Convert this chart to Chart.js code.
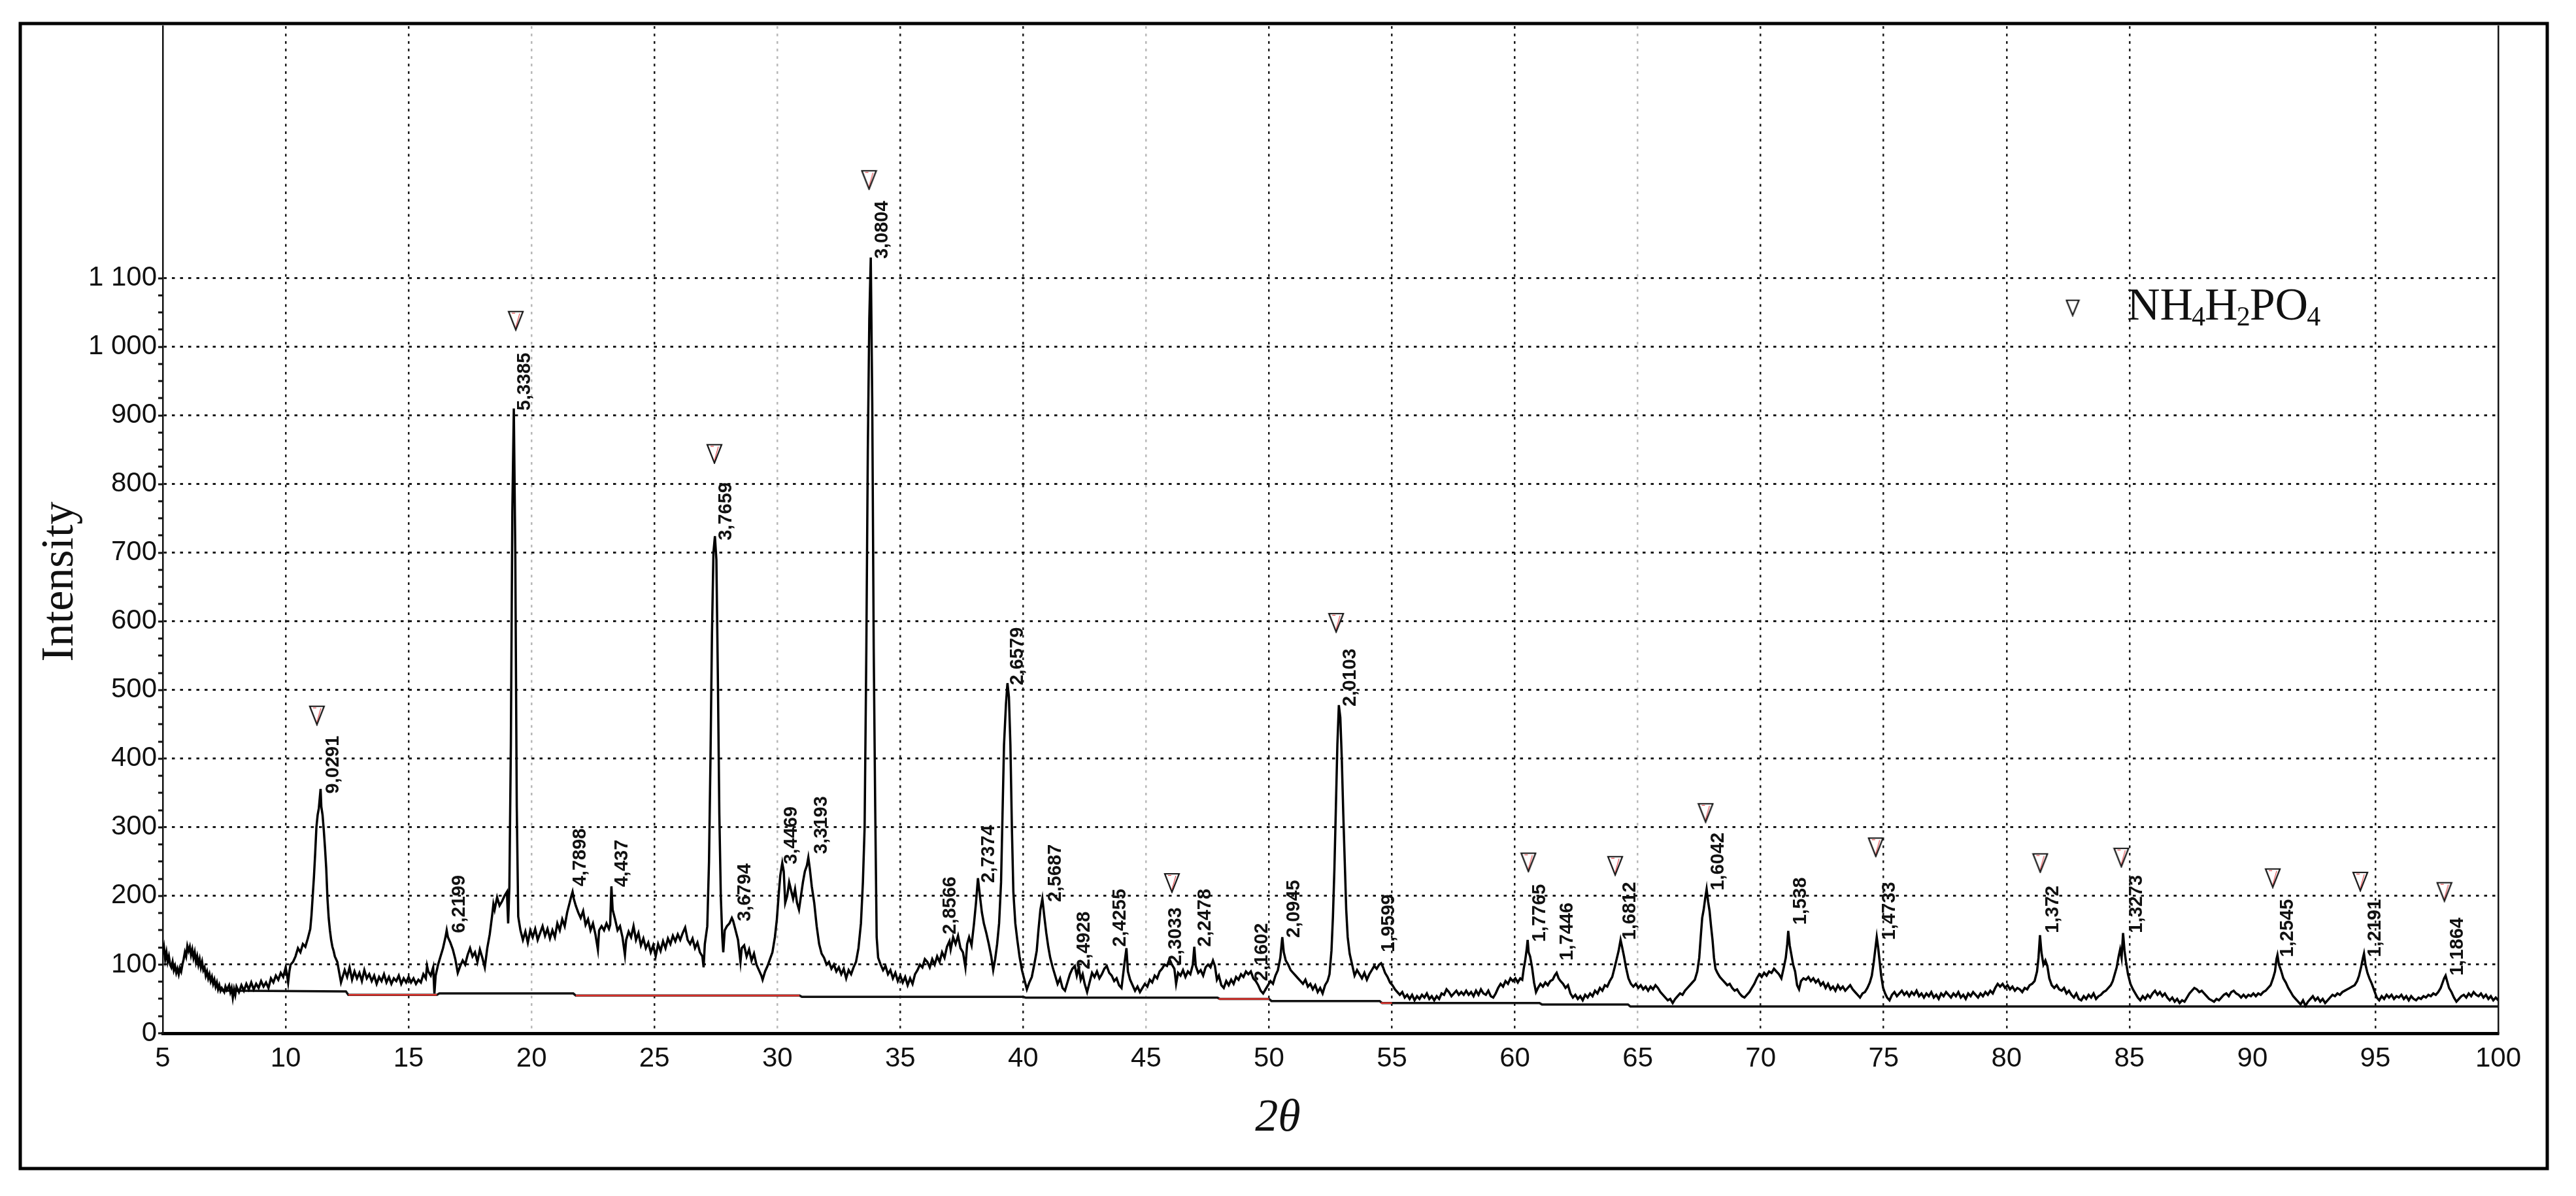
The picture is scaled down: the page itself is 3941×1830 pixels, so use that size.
<!DOCTYPE html>
<html>
<head>
<meta charset="utf-8">
<title>XRD NH4H2PO4</title>
<script src="https://cdn.jsdelivr.net/npm/chart.js@4.4.1/dist/chart.umd.min.js"></script>
<style>
  html, body { margin: 0; padding: 0; background: #fff; }
  canvas { display: block; }
</style>
</head>
<body>
<canvas id="xrd" width="3941" height="1830"></canvas>
<script>
// tick values and labels
const xTicks = [5, 10, 15, 20, 25, 30, 35, 40, 45, 50, 55, 60, 65, 70, 75, 80, 85, 90, 95, 100];
const yTickValues = [0, 100, 200, 300, 400, 500, 600, 700, 800, 900, 1000, 1100];
const yTickLabels = ['0', '100', '200', '300', '400', '500', '600', '700', '800', '900', '1 000', '1 100'];
const lightGrid = [20, 30, 45, 65];
const hiddenGrid = [5, 90, 100];

// 2theta / intensity
const xrdScan = [
[5.00,115],[5.05,125],[5.10,108],[5.15,118],[5.20,104],[5.25,112],[5.30,100],[5.35,96],[5.40,104],[5.45,92],
[5.50,98],[5.55,88],[5.60,94],[5.65,86],[5.70,95],[5.75,90],[5.80,100],[5.85,108],[5.90,118],[5.95,112],
[6.00,127],[6.05,120],[6.10,126],[6.15,114],[6.20,122],[6.25,110],[6.30,118],[6.35,104],[6.40,112],[6.45,100],
[6.50,108],[6.55,96],[6.60,104],[6.65,92],[6.70,96],[6.75,84],[6.80,90],[6.85,80],[6.90,86],[6.95,76],
[7.00,82],[7.05,72],[7.10,78],[7.15,68],[7.20,74],[7.25,64],[7.30,70],[7.35,62],[7.40,66],[7.50,60],
[7.55,68],[7.60,63],[7.70,70],[7.75,60],[7.80,66],[7.85,52],[7.90,64],[7.95,56],[8.00,68],[8.10,60],
[8.20,70],[8.30,62],[8.40,72],[8.50,64],[8.60,74],[8.70,64],[8.80,72],[8.90,66],[9.00,76],[9.10,68],
[9.20,74],[9.30,66],[9.40,80],[9.50,74],[9.60,84],[9.70,78],[9.80,88],[9.90,82],[10.00,96],[10.05,86],
[10.10,74],[10.15,90],[10.20,100],[10.30,104],[10.40,112],[10.50,124],[10.60,118],[10.70,130],[10.80,126],[10.90,138],
[11.00,152],[11.05,172],[11.10,200],[11.15,228],[11.20,262],[11.25,300],[11.30,318],[11.35,328],[11.38,340],[11.42,356],
[11.45,330],[11.50,318],[11.55,296],[11.60,270],[11.65,240],[11.70,196],[11.75,168],[11.80,150],[11.85,136],[11.90,126],
[11.95,120],[12.00,112],[12.10,104],[12.20,84],[12.25,74],[12.30,80],[12.40,92],[12.50,82],[12.60,96],[12.70,78],
[12.80,90],[12.90,80],[13.00,88],[13.10,76],[13.20,92],[13.30,80],[13.40,86],[13.50,76],[13.60,84],[13.70,72],
[13.80,82],[13.90,76],[14.00,86],[14.10,74],[14.20,82],[14.30,72],[14.40,80],[14.50,76],[14.60,84],[14.70,72],
[14.80,80],[14.90,74],[15.00,82],[15.10,74],[15.20,80],[15.30,72],[15.40,78],[15.50,74],[15.60,86],[15.70,80],
[15.75,98],[15.80,90],[15.90,84],[16.00,96],[16.05,58],[16.10,84],[16.20,100],[16.30,112],[16.40,124],[16.50,140],
[16.55,150],[16.60,140],[16.70,132],[16.80,122],[16.90,108],[17.00,88],[17.10,98],[17.20,106],[17.30,100],[17.40,114],
[17.50,124],[17.60,112],[17.70,118],[17.80,104],[17.90,122],[18.00,110],[18.10,96],[18.20,124],[18.30,144],[18.40,172],
[18.45,188],[18.50,180],[18.60,198],[18.70,186],[18.80,192],[18.90,200],[19.00,206],[19.05,160],[19.10,214],[19.16,420],
[19.22,760],[19.28,910],[19.34,700],[19.40,330],[19.46,170],[19.55,150],[19.65,136],[19.75,148],[19.85,132],[19.95,150],
[20.05,140],[20.15,152],[20.25,136],[20.35,146],
[20.45,156],[20.55,142],[20.65,152],[20.75,138],[20.85,150],[20.95,140],[21.05,160],[21.15,150],[21.25,166],[21.35,156],
[21.45,176],[21.55,190],[21.62,200],[21.67,206],[21.72,196],[21.80,186],[21.90,176],[22.00,168],[22.10,178],[22.20,158],
[22.30,166],[22.40,150],[22.50,160],[22.60,144],[22.70,122],[22.75,150],[22.85,156],[22.95,150],[23.05,160],[23.15,152],
[23.20,158],[23.25,214],[23.30,180],[23.40,166],[23.50,150],[23.60,156],[23.70,140],[23.80,114],[23.85,136],[23.95,148],
[24.05,140],[24.15,156],[24.25,136],[24.35,146],[24.45,128],[24.55,138],[24.65,124],[24.75,132],[24.85,118],[24.95,128],
[25.05,112],[25.15,130],[25.25,120],[25.35,134],[25.45,124],[25.55,138],[25.65,130],[25.75,142],[25.85,134],[25.95,144],
[26.05,136],[26.15,146],[26.25,154],[26.35,136],[26.45,130],[26.55,138],[26.65,124],[26.75,132],[26.85,118],[26.95,112],
[27.00,96],[27.05,130],[27.15,156],[27.22,250],[27.28,400],[27.34,580],[27.40,700],[27.46,724],[27.52,690],[27.58,520],
[27.64,320],[27.70,200],[27.76,140],[27.80,118],[27.86,150],[27.95,156],[28.05,160],[28.15,168],[28.20,164],[28.30,150],
[28.40,136],[28.50,104],[28.55,124],[28.65,128],[28.75,112],[28.85,122],[28.95,106],[29.05,116],[29.15,100],[29.25,92],
[29.35,84],[29.40,78],[29.50,90],[29.60,98],[29.70,108],[29.80,118],[29.90,140],[29.98,166],[30.05,200],[30.12,230],
[30.20,248],[30.26,236],[30.32,190],[30.40,200],[30.48,220],[30.56,208],[30.64,196],[30.72,210],[30.80,190],[30.88,180],
[30.96,200],[31.04,220],[31.12,236],[31.20,244],[31.26,256],[31.32,240],[31.40,214],[31.50,190],[31.60,156],[31.70,130],
[31.80,116],[31.90,110],[32.00,100],[32.10,104],[32.20,94],[32.30,100],[32.40,90],[32.50,96],[32.60,86],[32.70,94],
[32.80,80],[32.90,92],[33.00,86],[33.10,96],[33.20,104],[33.30,124],[33.40,160],[33.48,220],[33.55,300],[33.62,560],
[33.68,850],[33.74,1040],[33.80,1130],[33.86,920],[33.92,560],[33.98,330],[34.04,140],[34.10,110],[34.20,100],[34.30,92],
[34.40,98],[34.50,86],[34.60,92],[34.70,80],[34.80,88],[34.90,76],[35.00,84],[35.10,74],[35.20,82],[35.30,70],
[35.40,80],[35.50,72],[35.60,86],[35.70,92],[35.80,100],[35.90,96],[36.00,108],
[36.10,104],[36.20,96],[36.30,108],[36.40,100],[36.50,112],[36.60,104],[36.70,118],[36.80,110],[36.90,126],[37.00,134],
[37.05,122],[37.15,140],[37.25,130],[37.35,142],[37.45,124],[37.55,118],[37.65,96],[37.72,130],[37.80,140],[37.90,128],
[38.00,160],[38.08,190],[38.16,226],[38.24,200],[38.32,176],[38.40,160],[38.50,146],[38.60,130],[38.70,112],[38.78,92],
[38.86,108],[38.94,130],[39.02,160],[39.10,220],[39.16,320],[39.22,420],[39.30,480],[39.36,510],[39.42,490],[39.48,420],
[39.54,300],[39.60,206],[39.68,160],[39.76,136],[39.85,112],[39.95,92],[40.05,78],[40.15,64],[40.25,74],[40.35,82],
[40.45,100],[40.55,120],[40.62,150],[40.70,180],[40.78,196],[40.86,170],[40.94,146],[41.02,126],[41.10,110],[41.20,96],
[41.30,84],[41.40,72],[41.50,80],[41.60,66],[41.70,62],[41.80,74],[41.90,86],[42.00,94],[42.10,98],[42.18,84],
[42.26,96],[42.34,78],[42.42,86],[42.50,72],[42.60,60],[42.70,74],[42.80,88],[42.90,82],[43.00,90],[43.10,80],
[43.20,86],[43.30,94],[43.40,98],[43.50,88],[43.60,84],[43.70,76],[43.80,80],[43.90,70],[44.00,66],[44.10,96],
[44.20,124],[44.26,90],[44.35,78],[44.45,70],[44.55,62],[44.65,68],[44.75,60],[44.85,66],[44.95,72],[45.05,68],
[45.15,78],[45.25,74],[45.35,84],[45.45,80],[45.55,90],[45.65,94],[45.75,100],[45.85,98],[45.95,108],[46.05,100],
[46.15,94],[46.22,72],[46.30,88],[46.40,84],[46.50,92],[46.60,82],[46.70,90],[46.80,86],[46.90,100],[46.96,126],
[47.02,98],[47.12,88],[47.22,92],[47.32,84],[47.42,96],[47.52,100],[47.62,96],[47.72,106],[47.80,98],[47.88,78],
[47.96,84],[48.06,70],[48.16,66],[48.26,76],[48.36,70],[48.46,78],[48.56,72],[48.66,82],[48.76,78],[48.86,86],
[48.96,82],[49.06,90],[49.16,86],[49.26,90],[49.36,80],[49.46,76],[49.56,70],[49.66,62],[49.76,58],[49.86,64],
[49.96,70],[50.06,76],[50.16,72],[50.26,84],[50.36,92],[50.46,110],[50.54,140],[50.60,118],[50.68,106],[50.78,100],
[50.88,92],[50.98,88],[51.08,84],[51.18,80],[51.28,76],[51.38,72],[51.48,78],[51.58,68],[51.68,72],[51.78,64],
[51.88,70],[51.98,60],[52.08,66],[52.18,58],[52.28,70],[52.38,76],[52.46,86],[52.54,120],[52.60,170],[52.66,240],
[52.72,330],[52.78,420],[52.84,478],[52.90,460],[52.96,400],[53.02,320],[53.08,250],[53.14,180],[53.20,140],[53.28,116],
[53.38,100],[53.48,84],[53.58,92],[53.68,86],[53.78,80],[53.88,88],[53.98,78],[54.08,86],[54.18,92],[54.28,98],
[54.38,94],[54.48,100],[54.56,102],[54.64,96],[54.72,88],[54.82,82],[54.92,74],[55.02,70],[55.12,64],[55.22,60],
[55.32,56],[55.42,60],[55.52,52],[55.62,56],[55.72,50],[55.82,56],[55.92,48],[56.02,54],[56.12,50],[56.22,56],
[56.32,52],[56.42,58],[56.52,50],[56.62,54],[56.72,48],[56.82,54],[56.92,50],[57.02,58],[57.12,56],[57.22,64],
[57.32,60],[57.42,54],[57.52,58],[57.62,62],[57.72,56],[57.82,60],[57.92,56],[58.02,62],[58.12,56],[58.22,60],
[58.32,54],[58.42,62],[58.52,56],[58.62,64],[58.72,58],[58.82,56],[58.92,62],[59.02,54],[59.12,52],[59.22,58],
[59.32,66],[59.42,72],[59.52,68],[59.62,76],[59.72,72],[59.82,80],[59.92,76],[60.02,80],[60.12,74],[60.22,80],
[60.30,78],[60.36,94],[60.42,106],[60.48,122],[60.52,136],[60.56,118],[60.62,112],[60.70,96],[60.78,74],[60.86,60],
[60.94,66],[61.04,72],[61.14,68],[61.24,74],[61.34,70],[61.44,76],[61.54,78],[61.62,84],[61.70,88],[61.78,80],
[61.86,76],[61.96,72],[62.06,66],[62.16,70],[62.26,58],[62.36,52],[62.46,56],[62.56,50],[62.66,54],[62.76,48],
[62.86,56],[62.96,52],[63.06,58],[63.16,54],[63.26,62],[63.36,58],[63.46,66],[63.56,62],[63.66,70],[63.76,68],
[63.86,76],[63.96,82],[64.06,96],[64.14,108],[64.22,120],[64.30,136],[64.36,126],[64.44,112],[64.52,96],[64.62,80],
[64.72,72],[64.82,68],[64.92,72],[65.02,66],[65.12,70],[65.22,64],[65.32,68],[65.42,62],[65.52,68],[65.62,64],
[65.72,70],[65.82,66],[65.92,60],[66.02,56],[66.12,52],[66.22,48],[66.32,50],[66.42,44],[66.52,50],[66.62,54],
[66.72,58],[66.82,56],[66.92,62],[67.02,66],[67.12,70],[67.22,74],[67.32,78],[67.42,90],[67.50,110],
[67.56,140],[67.62,168],[67.68,180],[67.74,196],[67.80,210],[67.86,192],[67.92,178],[67.98,156],[68.04,136],[68.10,110],
[68.16,94],[68.24,88],[68.34,82],[68.44,78],[68.54,74],[68.64,70],[68.74,72],[68.84,66],[68.94,62],[69.04,64],
[69.14,58],[69.24,54],[69.34,52],[69.44,56],[69.54,60],[69.64,66],[69.74,72],[69.84,80],[69.94,86],[70.04,82],
[70.14,88],[70.24,84],[70.34,90],[70.44,88],[70.54,94],[70.64,90],[70.74,86],[70.84,80],[70.94,96],[71.02,110],
[71.08,130],[71.12,149],[71.18,128],[71.24,116],[71.32,100],[71.40,90],[71.48,70],[71.56,64],[71.64,76],[71.74,80],
[71.84,78],[71.94,82],[72.04,76],[72.14,80],[72.24,74],[72.34,78],[72.44,70],[72.54,74],[72.64,66],[72.74,72],
[72.84,64],[72.94,68],[73.04,62],[73.14,70],[73.24,64],[73.34,68],[73.44,62],[73.54,66],[73.64,70],[73.74,64],
[73.84,60],[73.94,56],[74.04,52],[74.14,58],[74.24,60],[74.34,66],[74.44,74],[74.52,84],[74.60,104],[74.66,122],
[74.72,140],[74.78,124],[74.84,104],[74.90,84],[74.98,66],[75.06,58],[75.14,52],[75.24,48],[75.34,56],[75.44,60],
[75.54,54],[75.64,58],[75.74,62],[75.84,56],[75.94,60],[76.04,54],[76.14,60],[76.24,56],[76.34,62],[76.44,54],
[76.54,58],[76.64,52],[76.74,58],[76.84,54],[76.94,60],[77.04,52],[77.14,56],[77.24,50],[77.34,58],[77.44,54],
[77.54,60],[77.64,56],[77.74,52],[77.84,58],[77.94,54],[78.04,60],[78.14,52],[78.24,56],[78.34,50],[78.44,58],
[78.54,54],[78.64,60],[78.74,56],[78.84,52],[78.94,58],[79.04,54],[79.14,60],[79.24,56],[79.34,62],[79.44,58],
[79.54,66],[79.64,72],[79.74,68],[79.84,72],[79.94,66],[80.04,70],[80.14,64],[80.24,68],[80.34,62],[80.44,66],
[80.54,64],[80.64,60],[80.74,66],[80.84,64],[80.94,70],[81.04,72],[81.14,76],[81.24,90],[81.30,110],[81.36,143],
[81.42,118],[81.50,100],[81.58,106],[81.66,98],[81.74,80],[81.84,70],[81.94,66],[82.04,70],[82.14,64],[82.24,62],
[82.34,66],[82.44,58],[82.54,62],[82.64,56],[82.74,52],[82.84,58],[82.94,50],[83.04,48],[83.14,54],[83.24,50],
[83.34,56],[83.44,52],[83.54,58],[83.64,50],[83.74,54],[83.84,56],[83.94,60],[84.04,62],[84.14,66],[84.24,70],
[84.32,76],[84.40,86],[84.48,96],[84.56,112],[84.62,122],[84.68,110],[84.74,146],[84.80,120],[84.86,104],[84.94,86],
[85.04,72],[85.14,64],[85.24,58],[85.34,52],[85.44,48],[85.54,54],[85.64,50],[85.74,56],[85.84,52],[85.94,58],
[86.04,62],[86.14,56],[86.24,60],[86.34,54],[86.44,58],[86.54,52],[86.64,48],[86.74,52],[86.84,46],[86.94,50],
[87.04,44],[87.14,48],[87.24,46],[87.34,52],[87.44,58],[87.54,62],[87.64,66],[87.74,64],[87.84,60],[87.94,62],
[88.04,58],[88.14,54],[88.24,50],[88.34,48],[88.44,46],[88.54,50],[88.64,48],[88.74,52],[88.84,56],[88.94,58],
[89.04,54],[89.14,60],[89.24,62],[89.34,58],[89.44,56],[89.54,52],[89.64,56],[89.74,52],[89.84,56],[89.94,54],
[90.04,58],[90.14,54],[90.24,58],[90.34,56],[90.44,60],[90.54,62],[90.64,66],[90.74,70],[90.84,80],[90.92,90],
[90.98,108],[91.02,114],[91.08,100],[91.16,92],[91.26,80],[91.36,74],[91.46,66],[91.56,60],[91.66,54],[91.76,50],
[91.86,46],[91.96,42],[92.06,48],[92.16,40],[92.26,46],[92.36,50],[92.46,54],[92.56,48],[92.66,52],[92.76,46],
[92.86,50],[92.96,44],[93.06,48],[93.16,52],[93.26,56],[93.36,54],[93.46,58],[93.56,56],[93.66,60],[93.76,62],
[93.86,64],[93.96,66],[94.06,68],[94.16,70],[94.26,76],[94.34,84],[94.42,96],[94.50,110],[94.54,116],[94.60,100],
[94.68,88],[94.76,80],[94.86,72],[94.96,62],[95.06,52],[95.16,48],[95.26,54],[95.36,50],[95.46,56],[95.56,52],
[95.66,56],[95.76,50],[95.86,54],[95.96,52],[96.06,56],[96.16,50],[96.26,54],[96.36,48],[96.46,54],[96.56,50],
[96.66,48],[96.76,52],[96.86,50],[96.96,54],[97.06,52],[97.16,56],[97.26,54],[97.36,58],[97.46,56],[97.56,60],
[97.66,66],[97.74,74],[97.80,80],[97.86,84],[97.92,76],[98.00,66],[98.10,60],[98.20,52],[98.30,46],[98.40,50],
[98.50,54],[98.60,56],[98.70,52],[98.80,58],[98.90,54],[99.00,60],[99.10,56],[99.20,54],[99.30,58],[99.40,52],
[99.50,56],[99.60,50],[99.70,54],[99.80,48],[99.90,52],[100.00,48]
];

// background line under the scan
const baseline = [[7.4,62],[12.45,61],[12.55,56],[16.15,56],[16.25,58],[21.7,58],[21.8,55],[30.9,55],[31.0,53],
  [40.0,53],[40.1,52],[47.9,52],[48.0,50],[50.0,50],[50.1,47],[54.5,47],[54.6,44],[61.0,44],[61.1,42],[64.6,42],[64.7,39],[100,39]];
const baselineRed = [[12.55,56],[16.15,56],[16.2,null],[21.8,55],[30.9,55],[30.95,null],[47.95,50],[50.0,50],[50.05,null],[54.55,44],[55.0,44]];

// NH4H2PO4 markers (2theta, height)
const markers = [[11.27,463],[19.36,1038],[27.44,844],[33.73,1243],[46.05,219],[52.73,598],[60.55,249],[64.08,244],
  [67.76,321],[74.68,271],[81.37,248],[84.67,256],[90.83,226],[94.39,221],[97.81,206]];

// d-spacing labels: text, 2theta, height where the text starts
const peakLabels = [
  ['9,0291',11.95,349],['6,2199',17.07,146],['5,3385',19.73,907],['4,7898',21.98,214],['4,437',23.70,213],
  ['3,7659',27.92,718],['3,6794',28.69,163],['3,4469',30.57,246],['3,3193',31.79,261],['3,0804',34.27,1128],
  ['2,8566',37.05,144],['2,7374',38.62,219],['2,6579',39.78,507],['2,5687',41.32,191],['2,4928',42.49,93],
  ['2,4255',43.96,126],['2,3033',46.20,99],['2,2478',47.42,126],['2,1602',49.71,76],['2,0945',51.03,139],
  ['2,0103',53.31,476],['1,9599',54.87,118],['1,7765',61.03,133],['1,7446',62.15,106],['1,6812',64.69,136],
  ['1,6042',68.27,208],['1,538',71.63,158],['1,4733',75.24,136],['1,372',81.90,146],['1,3273',85.29,146],
  ['1,2545',91.45,111],['1,2191',95.00,111],['1,1864',98.36,84]
];

const pts = arr => arr.map(p => ({x: p[0], y: p[1]}));

function triangleImg(w, h, red) {
  const c = document.createElement('canvas');
  c.width = w + 4; c.height = h + 4;
  const g = c.getContext('2d');
  g.beginPath();
  g.moveTo(2, 2); g.lineTo(w + 2, 2); g.lineTo(w / 2 + 2, h + 2); g.closePath();
  g.fillStyle = '#fff'; g.fill();
  g.lineWidth = 2.2; g.strokeStyle = '#151515'; g.stroke();
  if (red) {
    // thin red tint on the inner edges
    g.beginPath();
    g.moveTo(w / 2 + 2, h - 2); g.lineTo(w - 3, 5);
    g.moveTo(7, 4.5); g.lineTo(12, 4.5);
    g.lineWidth = 1; g.strokeStyle = '#e0282c'; g.stroke();
  }
  return c;
}
const markerImg = triangleImg(22, 28, true);
const legendImg = triangleImg(19, 23, false);

const decor = {
  id: 'decor',
  afterDatasetsDraw(chart) {
    const {ctx, scales: {x, y}} = chart;
    ctx.save();
    ctx.fillStyle = '#111';
    ctx.font = 'bold 29px "Liberation Sans", Arial, sans-serif';
    ctx.textAlign = 'left';
    ctx.textBaseline = 'middle';
    peakLabels.forEach(([txt, lx, ly]) => {
      ctx.save();
      ctx.translate(x.getPixelForValue(lx), y.getPixelForValue(ly));
      ctx.rotate(-Math.PI / 2);
      ctx.fillText(txt, 0, 0);
      ctx.restore();
    });
    ctx.restore();
  },
  afterDraw(chart) {
    const {ctx, chartArea: a, scales: {y}} = chart;
    ctx.save();
    // small ticks on the intensity axis
    ctx.strokeStyle = '#111';
    ctx.lineWidth = 3;
    for (let v = 0; v <= 1100; v += 25) {
      const py = Math.round(y.getPixelForValue(v));
      ctx.beginPath(); ctx.moveTo(a.left - 7, py); ctx.lineTo(a.left, py); ctx.stroke();
    }
    // outer frame
    ctx.lineWidth = 5;
    ctx.strokeStyle = '#000';
    ctx.strokeRect(31, 36, 3866, 1752);
    // axis titles
    ctx.fillStyle = '#111';
    ctx.textAlign = 'center';
    ctx.textBaseline = 'middle';
    ctx.font = '70px "Liberation Serif", "Times New Roman", serif';
    ctx.save();
    ctx.translate(93, 890);
    ctx.rotate(-Math.PI / 2);
    ctx.fillText('Intensity', 0, 0);
    ctx.restore();
    ctx.font = 'italic 70px "Liberation Serif", "Times New Roman", serif';
    ctx.fillText('2θ', 1955, 1712);
    // legend
    ctx.drawImage(legendImg, 3171 - legendImg.width / 2, 471 - legendImg.height / 2);
    ctx.textAlign = 'left';
    ctx.textBaseline = 'alphabetic';
    const parts = [['NH', false], ['4', true], ['H', false], ['2', true], ['PO', false], ['4', true]];
    let tx = 3254;
    const base = 489;
    parts.forEach(([s, sub]) => {
      ctx.font = (sub ? '42px' : '70px') + ' "Liberation Serif", "Times New Roman", serif';
      ctx.fillText(s, tx, sub ? base + 9 : base);
      tx += ctx.measureText(s).width - (sub ? 1 : 2);
    });
    ctx.restore();
  }
};

const gridInk = '#1a1a1a';

new Chart(document.getElementById('xrd'), {
  type: 'line',
  data: {
    datasets: [
      { data: pts(xrdScan), borderColor: '#000', borderWidth: 3.5, pointRadius: 0, tension: 0, order: 0 },
      { data: pts(baseline), borderColor: '#111', borderWidth: 3.5, pointRadius: 0, tension: 0, order: 2 },
      { data: pts(baselineRed), borderColor: '#e0342e', borderWidth: 2.5, pointRadius: 0, tension: 0, spanGaps: false, order: 1 },
      { type: 'scatter', data: pts(markers), pointStyle: markerImg, pointRadius: 14, showLine: false, order: 0 }
    ]
  },
  options: {
    responsive: false,
    animation: false,
    devicePixelRatio: 1,
    layout: { padding: { top: 40, right: 119, left: 0, bottom: 0 } },
    plugins: { legend: { display: false }, tooltip: { enabled: false } },
    scales: {
      x: {
        type: 'linear', min: 5, max: 100,
        afterBuildTicks: s => { s.ticks = xTicks.map(v => ({ value: v })); },
        afterFit: s => { s.height = 249; },
        ticks: {
          autoSkip: false, maxRotation: 0, padding: 14, color: '#111',
          font: { family: '"Liberation Sans", Arial, sans-serif', size: 42 }
        },
        grid: {
          drawTicks: false, lineWidth: 2.5,
          color: c => {
            const v = c.tick ? c.tick.value : null;
            if (hiddenGrid.includes(v)) return 'rgba(0,0,0,0)';
            return lightGrid.includes(v) ? '#b8b8b8' : gridInk;
          }
        },
        border: { color: '#000', width: 5, dash: [4, 7.5] }
      },
      y: {
        type: 'linear', min: 0, max: 1467,
        afterBuildTicks: s => { s.ticks = yTickValues.map(v => ({ value: v })); },
        afterFit: s => { s.width = 249; },
        ticks: {
          padding: 9, color: '#111',
          font: { family: '"Liberation Sans", Arial, sans-serif', size: 42 },
          callback: v => { const i = yTickValues.indexOf(v); return i >= 0 ? yTickLabels[i] : ''; }
        },
        grid: {
          drawTicks: false, lineWidth: 3,
          color: c => (c.tick && c.tick.value === 0) ? 'rgba(0,0,0,0)' : gridInk
        },
        border: { color: '#111', width: 2.5, dash: [4.5, 8] }
      },
      y2: {
        type: 'linear', position: 'right', min: 0, max: 1,
        afterFit: s => { s.width = 0; },
        ticks: { display: false },
        grid: { display: false, drawTicks: false },
        border: { color: '#111', width: 2.5 }
      }
    }
  },
  plugins: [decor]
});
</script>
</body>
</html>
